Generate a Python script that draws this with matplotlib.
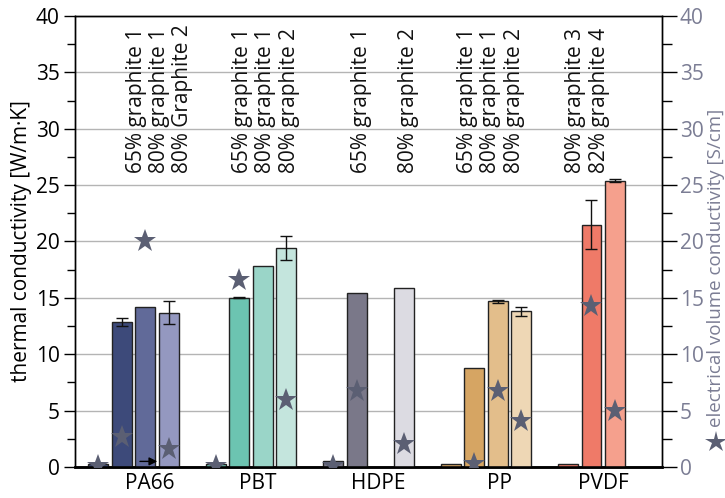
import numpy as np
import matplotlib
matplotlib.use("Agg")
import matplotlib.pyplot as plt

plt.rcParams['font.family'] = ['Open Sans', 'DejaVu Sans']

groups = ["PA66", "PBT", "HDPE", "PP", "PVDF"]
nan = np.nan

# thermal conductivity [W/m·K], 4 slots per group (neat polymer + 3 filled)
tc = {
    "PA66": [0.3, 12.85, 14.2, 13.7],
    "PBT":  [0.3, 15.0, 17.8, 19.4],
    "HDPE": [0.5, 15.4, nan, 15.9],
    "PP":   [0.3, 8.8, 14.7, 13.8],
    "PVDF": [0.3, 21.5, 25.4, nan],
}
tc_err = {
    "PA66": [0, 0.35, 0, 1.0],
    "PBT":  [0, 0.05, 0, 1.05],
    "HDPE": [0, 0, 0, 0],
    "PP":   [0, 0, 0.15, 0.4],
    "PVDF": [0, 2.2, 0.15, 0],
}
# electrical volume conductivity [S/cm]
ec = {
    "PA66": [0.1, 2.7, 20.0, 1.6],
    "PBT":  [0.1, 16.6, nan, 5.9],
    "HDPE": [0.1, 6.7, nan, 2.0],
    "PP":   [nan, 0.3, 6.7, 4.1],
    "PVDF": [nan, 14.3, 5.0, nan],
}
labels = {
    "PA66": [None, "65% graphite 1", "80% graphite 1", "80% Graphite 2"],
    "PBT":  [None, "65% graphite 1", "80% graphite 1", "80% graphite 2"],
    "HDPE": [None, "65% graphite 1", None, "80% graphite 2"],
    "PP":   [None, "65% graphite 1", "80% graphite 1", "80% graphite 2"],
    "PVDF": [None, "80% graphite 3", "82% graphite 4", None],
}
colors = {
    "PA66": ["#3d4a7a", "#3d4a7a", "#616a99", "#9498c0"],
    "PBT":  ["#6cc4b1", "#6cc4b1", "#9ad5c8", "#c4e5dd"],
    "HDPE": ["#7a7889", "#7a7889", "#dcdbe2", "#dcdbe2"],
    "PP":   ["#d6a563", "#d6a563", "#e3be8b", "#eed7b5"],
    "PVDF": ["#ef7a68", "#ef7a68", "#f5a08d", "#f5a08d"],
}

slot_off = np.array([-0.3, -0.1, 0.1, 0.3])
bar_w = 0.17
text_shift = [0.12, 0.025, 0.04, -0.06, -0.135]
label_shift = [0.136, 0.06, 0.085, 0.12, 0.0]

FS = 15
STAR = "#5b5f73"
GRAYTXT = "#7b7d94"

fig = plt.figure(figsize=(7.25, 4.98), dpi=100)
ax = fig.add_axes([0.1034, 0.0622, 0.8096, 0.9058])
ax2 = ax.twinx()

for gi, g in enumerate(groups):
    for si in range(4):
        v = tc[g][si]
        if np.isnan(v):
            continue
        x = gi + slot_off[si]
        e = tc_err[g][si]
        ax.bar(x, v, width=bar_w, color=colors[g][si], edgecolor="#222222",
               linewidth=1.0, zorder=3)
        if e > 0:
            ax.errorbar(x, v, yerr=e, fmt="none", ecolor="#111111",
                        elinewidth=1.0, capsize=4, capthick=1.0, zorder=4)
        t = labels[g][si]
        if t:
            ax.text(x + text_shift[gi], 26.1, t, rotation=90, ha="center",
                    va="bottom", fontsize=FS, color="#111111", zorder=5)
        ev = ec[g][si]
        if not np.isnan(ev):
            ax2.plot(x, ev, marker="*", markersize=17, color=STAR,
                     markeredgewidth=0, linestyle="none", zorder=6)

# arrow in PA66 group
ax.annotate("", xy=(0 + 0.225, 0.5), xytext=(0 + 0.03, 0.5),
            arrowprops=dict(arrowstyle="-|>", color="black", lw=1.0,
                            mutation_scale=12), zorder=6)

ax.set_xlim(-0.5, 4.5)
ax.set_ylim(0, 40)
ax2.set_ylim(0, 40)
ax.set_yticks(np.arange(0, 41, 5))
ax.set_yticks(np.arange(2.5, 40, 5), minor=True)
ax2.set_yticks(np.arange(0, 41, 5))
ax2.set_yticks(np.arange(2.5, 40, 5), minor=True)
ax.set_xticks(np.arange(len(groups)) + np.array(label_shift))
ax.set_xticklabels(groups, fontsize=FS)
ax.tick_params(axis="x", length=0, pad=4)
ax.tick_params(axis="y", which="major", length=8, width=1, labelsize=FS, pad=3)
ax.tick_params(axis="y", which="minor", length=5.5, width=1)
ax2.tick_params(axis="y", which="major", length=11, width=1, labelsize=FS,
                labelcolor=GRAYTXT, pad=2)
ax2.tick_params(axis="y", which="minor", length=7, width=1)

ax.yaxis.grid(True, color="#b4b4b4", linewidth=1.0, zorder=0)
ax.set_axisbelow(True)
for sp in ["left", "right", "top"]:
    ax.spines[sp].set_linewidth(1.0)
    ax2.spines[sp].set_linewidth(1.0)
ax.spines["bottom"].set_linewidth(1.8)
ax2.spines["bottom"].set_linewidth(1.8)

ax.set_ylabel("thermal conductivity [W/m·K]", fontsize=FS, labelpad=3)

# right axis label: star symbol + gray text
fig.text(716 / 725, 1 - 427 / 498, "electrical volume conductivity [S/cm]",
         rotation=90, ha="center", va="bottom", fontsize=13.5, color=GRAYTXT)
ax2.plot([716 / 725], [1 - 442 / 498], marker="*", markersize=16, color=STAR,
         markeredgewidth=0, transform=fig.transFigure, clip_on=False)

fig.savefig("out.png", dpi=100)
